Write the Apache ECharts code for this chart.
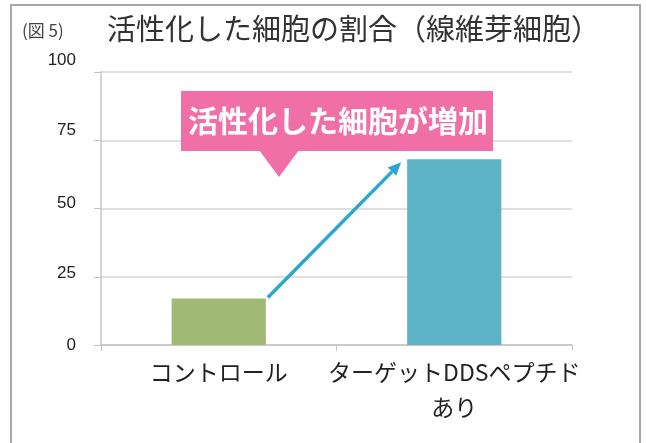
<!DOCTYPE html>
<html>
<head>
<meta charset="utf-8">
<script src="https://cdn.jsdelivr.net/npm/echarts@6/dist/echarts.min.js"></script>
<style>
html,body{margin:0;padding:0;background:#fff;}
#main{width:646px;height:443px;}
</style>
</head>
<body>
<div id="main"></div>
<script>
// 活性化した細胞の割合（線維芽細胞）
var categories = ['コントロール', 'ターゲットDDSペプチド\nあり'];
var values = [17, 68];
var barColors = ['#a0b974', '#5db4c6'];
var yTicks = [0, 25, 50, 75, 100];

var font = '"Noto Sans CJK JP", "Noto Sans", sans-serif';
var myChart = echarts.init(document.getElementById('main'));

// the original's tick labels sit a little above their ticks, more so near the top
var labelLift = {0: 0, 25: 3, 50: 5, 75: 10, 100: 12};
var richY = {};
yTicks.forEach(function (v) {
	richY['v' + v] = {
		fontFamily: '"Liberation Sans", Arial, sans-serif', fontSize: 17, color: '#222',
		padding: [0, 0, labelLift[v] * 2, 0]
	};
});

myChart.setOption({
	animation: false,
	backgroundColor: '#fff',
	title: [{
		text: '(図 5)',
		left: 17,
		top: 17,
		textStyle: {fontFamily: font, fontSize: 17, fontWeight: 'normal', color: '#444'}
	}, {
		text: '活性化した細胞の割合（線維芽細胞）',
		left: 102,
		top: 9,
		textStyle: {fontFamily: font, fontSize: 29, fontWeight: 'normal', color: '#333'}
	}],
	grid: {left: 101, right: 74, top: 72, bottom: 98},
	xAxis: {
		type: 'category',
		data: categories,
		axisLine: {lineStyle: {color: '#c4c4c4', width: 1.5}},
		axisTick: {show: true, length: 6, lineStyle: {color: '#c4c4c4'}},
		axisLabel: {interval: 0, fontFamily: font, fontSize: 23, color: '#222', margin: 10, lineHeight: 35}
	},
	yAxis: {
		type: 'value',
		min: 0,
		max: 100,
		interval: 25,
		axisLine: {show: true, lineStyle: {color: '#c4c4c4', width: 1.5}},
		axisTick: {show: true, length: 7, lineStyle: {color: '#c4c4c4'}},
		splitLine: {lineStyle: {color: '#d4d4d4', width: 1.5}},
		axisLabel: {
			margin: 25,
			rich: richY,
			formatter: function (v) { return '{v' + v + '|' + v + '}'; }
		}
	},
	series: [{
		type: 'bar',
		barWidth: '40%',
		data: values.map(function (v, i) { return {value: v, itemStyle: {color: barColors[i]}}; })
	}]
});

// annotation: arrow from control bar to target bar, callout box, frame
var p1 = myChart.convertToPixel({seriesIndex: 0}, [0, values[0]]);
var p2 = myChart.convertToPixel({seriesIndex: 0}, [1, values[1]]);
var bw = myChart.getModel().getSeriesByIndex(0).getData().getLayout('size') || 94;
var x1 = p1[0] + Math.abs(bw) / 2 + 2, y1 = p1[1] - 1;
var x2 = p2[0] - Math.abs(bw) / 2 - 6, y2 = p2[1] + 3;
var ang = Math.atan2(y2 - y1, x2 - x1);
var ah = 13, aw = 6;
var bx = x2 - ah * Math.cos(ang), by = y2 - ah * Math.sin(ang);

myChart.setOption({
	graphic: [
		{type: 'polyline', shape: {points: [[11, 443], [11, 5], [640, 5], [640, 443]]},
			style: {stroke: '#a8a8a8', lineWidth: 2, fill: null}, z: 10},
		{type: 'line', shape: {x1: x1, y1: y1, x2: bx, y2: by},
			style: {stroke: '#2aa7d0', lineWidth: 3.5}, z: 20},
		{type: 'polygon', shape: {points: [
			[x2, y2],
			[bx + aw * Math.sin(ang), by - aw * Math.cos(ang)],
			[bx - aw * Math.sin(ang), by + aw * Math.cos(ang)]
		]}, style: {fill: '#2aa7d0'}, z: 20},
		{type: 'rect', shape: {x: 181, y: 91, width: 312, height: 60},
			style: {fill: '#f06fa7'}, z: 30},
		{type: 'polygon', shape: {points: [[259, 150], [299, 150], [279, 177]]},
			style: {fill: '#f06fa7'}, z: 30},
		{type: 'text', x: 338, y: 121, z: 31,
			style: {text: '活性化した細胞が増加', fill: '#fff', font: 'bold 30px ' + font,
				textAlign: 'center', textVerticalAlign: 'middle'}}
	]
});
</script>
</body>
</html>
